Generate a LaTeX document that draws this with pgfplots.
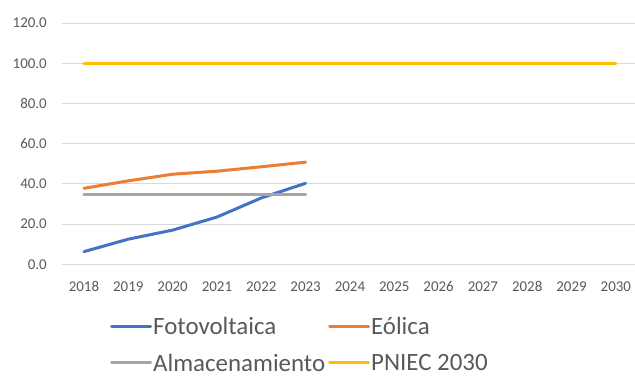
\documentclass[border=0pt]{standalone}
\usepackage{pgfplots}
\pgfplotsset{compat=1.18}
\usepackage{fontspec}
\setmainfont{Carlito}
\definecolor{cblue}{HTML}{4472C4}
\definecolor{corange}{HTML}{ED7D31}
\definecolor{cgray}{HTML}{A5A5A5}
\definecolor{cyellow}{HTML}{FFC000}
\definecolor{ctext}{HTML}{595959}
\definecolor{cgrid}{HTML}{D9D9D9}
\begin{document}
\begin{tikzpicture}
\useasboundingbox (0,0) rectangle (635bp,379bp);
\begin{axis}[
  at={(62bp,114.7bp)}, anchor=south west,
  scale only axis, width=573bp, height=241.3bp,
  xmin=2017.504, xmax=2030.43, ymin=0, ymax=120,
  xtick={2018,...,2030}, ytick={0,20,...,120},
  axis line style={draw=none},
  major tick length=0pt,
  ymajorgrids, grid style={cgrid, line width=0.75bp},
  /pgf/number format/assume math mode=true,
  xticklabel style={font=\fontsize{15}{18}\selectfont, text=ctext, inner sep=0pt, anchor=north, yshift=-17bp, /pgf/number format/1000 sep=},
  yticklabel style={font=\fontsize{15}{18}\selectfont, text=ctext, inner sep=0pt, anchor=east, xshift=-15bp, /pgf/number format/.cd, fixed, fixed zerofill, precision=1},
  legend columns=2,
  legend cell align=left,
  legend style={draw=none, fill=none, inner sep=0pt, at={(0,0)}, anchor=north west, xshift=48bp, yshift=-52bp,
    font=\fontsize{25}{30}\selectfont, text=ctext, row sep=17bp,
    nodes={inner sep=1bp, text depth=0pt},
    /tikz/every even column/.append style={column sep=2bp}},
  legend image code/.code={\draw[#1, line width=3bp] (0bp,0bp) -- (39bp,0bp);},
  every axis plot/.append style={line width=3bp, line cap=round, line join=round},
]
\addplot[cblue] coordinates {(2018,6.3) (2019,12.5) (2020,17) (2021,23.5) (2022,33) (2023,40.3)};
\addlegendentry{Fotovoltaica}
\addplot[corange] coordinates {(2018,37.8) (2019,41.5) (2020,44.8) (2021,46.3) (2022,48.5) (2023,50.8)};
\addlegendentry{Eólica}
\addplot[cgray] coordinates {(2018,34.7) (2019,34.7) (2020,34.7) (2021,34.7) (2022,34.7) (2023,34.7)};
\addlegendentry{Almacenamiento}
\addplot[cyellow] coordinates {(2018,100) (2019,100) (2020,100) (2021,100) (2022,100) (2023,100) (2024,100) (2025,100) (2026,100) (2027,100) (2028,100) (2029,100) (2030,100)};
\addlegendentry{PNIEC 2030}
\end{axis}
\end{tikzpicture}
\end{document}
